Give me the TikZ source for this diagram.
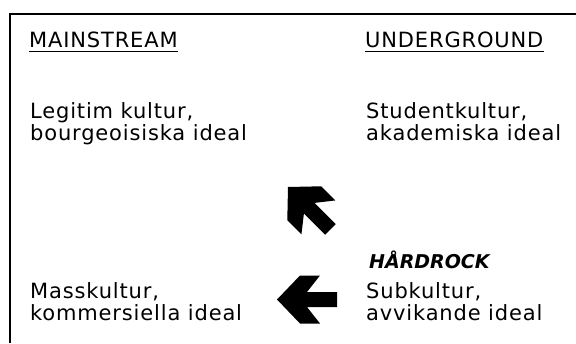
\documentclass[tikz,border=0pt]{standalone}
\usepackage{fontspec}
\setmainfont{DejaVu Sans}[LetterSpace=4]
\newfontfamily\rockfont{DejaVu Sans}
\usetikzlibrary{positioning,calc}

\begin{document}
\begin{tikzpicture}[x=1pt,y=-1pt,
  txt/.style={anchor=base west,inner sep=0pt,align=left,font=\fontsize{21}{22}\selectfont},
  fatarrow/.pic={\fill (0,0) -- (23,-24) -- (43,-24) -- (30,-7.5) -- (60,-7.5) -- (60,7.5) -- (30,7.5) -- (43,24) -- (23,24) -- cycle;}]
\useasboundingbox (0,0) rectangle (576,343);
\draw[line width=2pt] (10,343) -- (10,14) -- (576,14);
% column heads
\node[txt] (main) at (29,47) {MAINSTREAM};
\node[txt] (under) at (365,47) {UNDERGROUND};
\draw[line width=1.5pt] ([yshift=-4.5pt]main.base west) -- ([yshift=-4.5pt]main.base east);
\draw[line width=1.5pt] ([yshift=-4.5pt]under.base west) -- ([yshift=-4.5pt]under.base east);
% the four cultures (base = last line)
\node[txt] (legit) at (30,140) {Legitim kultur,\\bourgeoisiska ideal};
\node[txt] (student) at (366,140) {Studentkultur,\\akademiska ideal};
\node[txt] (mass) at (30,320) {Masskultur,\\kommersiella ideal};
\node[txt] (sub) at (366,320) {Subkultur,\\avvikande ideal};
\node[txt,font=\rockfont\fontsize{19}{22}\selectfont\bfseries\itshape] (rock) at (369,268) {HÅRDROCK};
% arrows
\pic[rotate=-45] at (288,187) {fatarrow};
\pic at (277,299.5) {fatarrow};
\end{tikzpicture}
\end{document}
